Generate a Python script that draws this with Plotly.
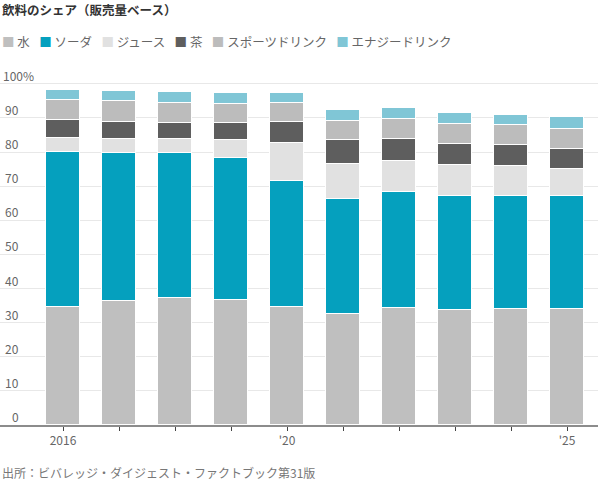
import plotly.graph_objects as go

years = [2016, 2017, 2018, 2019, 2020, 2021, 2022, 2023, 2024, 2025]
year_labels = ["2016", "", "", "", "'20", "", "", "", "", "'25"]

series_names = ["水", "ソーダ", "ジュース", "茶", "スポーツドリンク", "エナジードリンク"]
series_colors = ["#bfbfbf", "#05a0be", "#e1e1e1", "#5e5e5e", "#bcbcbc", "#80c6d6"]

water = [34.7, 36.2, 37.2, 36.7, 34.5, 32.5, 34.4, 33.6, 34.0, 33.9]
soda = [45.3, 43.5, 42.5, 41.7, 37.1, 33.8, 33.8, 33.6, 33.2, 33.3]
juice = [4.0, 4.1, 4.1, 5.0, 11.0, 10.2, 9.3, 9.0, 8.8, 7.9]
tea = [5.4, 5.1, 4.7, 5.1, 6.1, 7.1, 6.4, 6.1, 6.0, 5.8]
sports = [6.0, 6.0, 5.8, 5.6, 5.6, 5.6, 5.7, 6.0, 5.8, 5.8]
energy = [2.8, 3.0, 3.3, 3.3, 3.1, 3.0, 3.2, 3.1, 3.2, 3.7]

y_ticks = [0, 10, 20, 30, 40, 50, 60, 70, 80, 90, 100]

title_text = "飲料のシェア（販売量ベース）"
source_text = "出所：ビバレッジ・ダイジェスト・ファクトブック第31版"

FONT = "Noto Sans CJK JP"

fig = go.Figure()
for name, color, vals in zip(series_names, series_colors,
                             [water, soda, juice, tea, sports, energy]):
    fig.add_trace(go.Bar(
        x=years, y=vals, name=name,
        marker=dict(color=color, line=dict(color="white", width=1.5)),
        width=0.59, showlegend=False,
    ))

# plot area geometry
L, R, T, B = 0, 2, 77, 58
W, H = 600, 483
plot_h = H - T - B

def py(pix):
    return (H - B - pix) / plot_h

annotations = []
# y-axis labels above gridlines
for v in y_ticks:
    if v == 100:
        annotations.append(dict(x=0, xref="paper", xanchor="left", xshift=1,
                                y=v, yref="y", yanchor="bottom", yshift=-2,
                                text="100%", showarrow=False,
                                font=dict(family=FONT, size=12, color="#666666")))
    else:
        annotations.append(dict(x=0, xref="paper", xanchor="right", xshift=21,
                                y=v, yref="y", yanchor="bottom", yshift=-2,
                                text=str(v), showarrow=False,
                                font=dict(family=FONT, size=12, color="#666666")))

# title
annotations.append(dict(x=0, xref="paper", xanchor="left", y=py(9.5), yref="paper",
                        yanchor="middle", text="<b>" + title_text + "</b>", showarrow=False,
                        font=dict(family=FONT, size=12.5, color="#333333")))

# legend line
parts = []
for name, color in zip(series_names, series_colors):
    parts.append('<span style="color:%s">■</span> %s' % (color, name))
legend_text = "\u2002\u2005".join(parts)
annotations.append(dict(x=0, xref="paper", xanchor="left", y=py(42), yref="paper",
                        yanchor="middle", text=legend_text, showarrow=False,
                        font=dict(family=FONT, size=12.5, color="#666666")))

# source
annotations.append(dict(x=0, xref="paper", xanchor="left", y=py(472.5), yref="paper",
                        yanchor="middle", text=source_text, showarrow=False,
                        font=dict(family=FONT, size=12, color="#777777")))

x0 = 2016 - 63 / 56
x1 = x0 + (W - L - R) / 56

fig.update_layout(
    barmode="stack",
    width=W, height=H,
    margin=dict(l=L, r=R, t=T, b=B, pad=0),
    paper_bgcolor="white", plot_bgcolor="white",
    font=dict(family=FONT, size=12, color="#666666"),
    annotations=annotations,
    bargap=0,
    xaxis=dict(range=[x0, x1], tickvals=years, ticktext=year_labels,
               showgrid=False, showline=True, linecolor="#8c8c8c", linewidth=1.5,
               ticks="outside", ticklen=4, tickwidth=1, tickcolor="#444444",
               tickfont=dict(family=FONT, size=12, color="#666666"),
               zeroline=False, fixedrange=True),
    yaxis=dict(range=[0, 102], tickvals=y_ticks, showticklabels=False,
               showgrid=True, gridcolor="#e8e8e8", gridwidth=1,
               zeroline=False, ticks="", fixedrange=True),
)

fig.write_html("out.html")
